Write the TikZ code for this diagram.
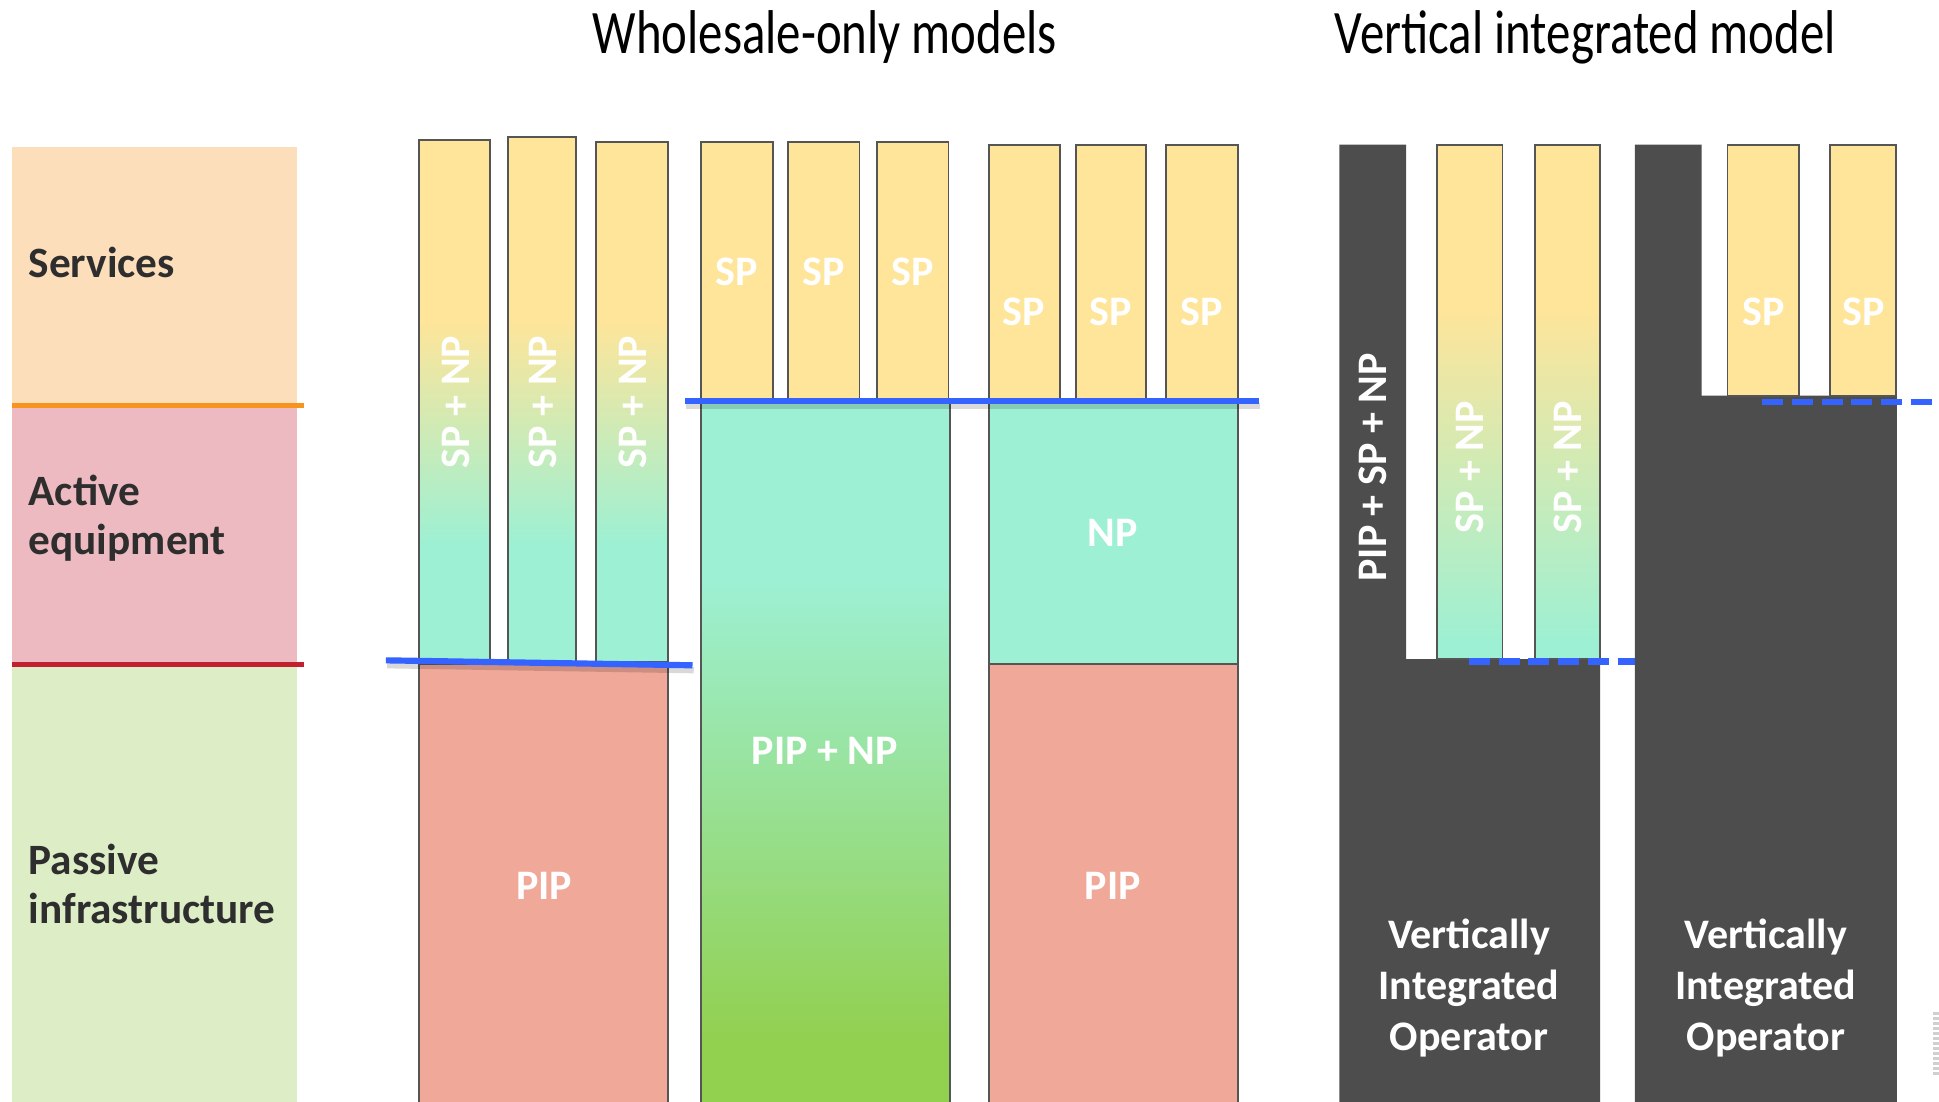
\documentclass[tikz,border=0pt]{standalone}
\usepackage{fontspec}
\setmainfont{Carlito}
\definecolor{cpeach}{HTML}{FCDEBA}
\definecolor{cpink}{HTML}{ECBAC0}
\definecolor{clgreen}{HTML}{DDEDC6}
\definecolor{corange}{HTML}{F7941D}
\definecolor{cred}{HTML}{C1202F}
\definecolor{cyel}{HTML}{FEE59A}
\definecolor{cteal}{HTML}{9DF0D3}
\definecolor{cgreen}{HTML}{92D050}
\definecolor{csalmon}{HTML}{F0A898}
\definecolor{cdark}{HTML}{4D4D4D}
\definecolor{cblue}{HTML}{3463FF}
\definecolor{cbord}{HTML}{555555}
\definecolor{ctext}{HTML}{2E2E2E}
\definecolor{cstripe}{HTML}{D0D0D0}
\newcommand{\gradbar}[6]{%
  \fill[cyel] (#1,#6) rectangle (#2,#4);
  \shade[top color=cyel,bottom color=cteal] (#1,#5) rectangle (#2,#6);
  \fill[cteal] (#1,#3) rectangle (#2,#5);
  \draw[bord] (#1,#3) rectangle (#2,#4);}
\begin{document}
\begin{tikzpicture}[x=1pt,y=1pt,
  bord/.style={draw=cbord,line width=1.4pt},
  blueln/.style={draw=cblue,line width=5pt},
  bluedash/.style={draw=cblue,line width=5pt,dash pattern=on 17pt off 7pt},
  shadowln/.style={draw=black,opacity=0.15,line width=5pt},
  lefttxt/.style={text=ctext,font=\fontsize{35}{40}\selectfont\bfseries,align=left,inner sep=0pt},
  wtxt/.style={text=white,font=\fontsize{34}{41}\selectfont\bfseries,align=center,inner sep=0pt},
  ttl/.style={text=black,font=\fontsize{50}{54}\selectfont,inner sep=0pt}]
\useasboundingbox (0,0) rectangle (1568,891);
\fill[white] (0,0) rectangle (1568,891);
% left legend column
\fill[cpeach] (10,563) rectangle (240,772);
\fill[cpink] (10,354) rectangle (240,563);
\fill[clgreen] (10,0) rectangle (240,354);
\draw[corange,line width=4pt] (10,563) -- (246,563);
\draw[cred,line width=4pt] (10,354) -- (246,354);
\node[lefttxt,anchor=west] (services) at (23,679) {Services};
\node[lefttxt,anchor=west] (active) at (23,472) {Active\\equipment};
\node[lefttxt,anchor=west] (passive) at (23,176) {Passive\\infrastructure};
% titles
\node[ttl] (t1) at (667,861) {\scalebox{0.79}[1]{Wholesale-only models}};
\node[ttl] (t2) at (1282,861) {\scalebox{0.79}[1]{Vertical integrated model}};
% model 1
\gradbar{339}{396}{356}{778}{451}{631}
\gradbar{411}{466}{356}{780}{451}{631}
\gradbar{482}{540}{356}{776}{451}{631}
\fill[csalmon] (339,-2) rectangle (540,354);
\draw[bord] (339,-2) rectangle (540,354);
\draw[shadowln] (313,353) -- (561,349);
\draw[blueln] (312,357) -- (560,353);
\node[wtxt,rotate=90] (m1a) at (369,566) {SP + NP};
\node[wtxt,rotate=90] (m1b) at (439,566) {SP + NP};
\node[wtxt,rotate=90] (m1c) at (512,566) {SP + NP};
\node[wtxt] (m1pip) at (440,175) {PIP};
% model 2
\draw[bord,fill=cyel] (567,567) rectangle (625,776);
\draw[bord,fill=cyel] (637,567) rectangle (695,776);
\draw[bord,fill=cyel] (709,567) rectangle (767,776);
\fill[cteal] (567,421) rectangle (768,567);
\shade[top color=cteal,bottom color=cgreen] (567,51) rectangle (768,421);
\fill[cgreen] (567,-2) rectangle (768,51);
\draw[bord] (567,-2) rectangle (768,567);
\node[wtxt] (m2a) at (596,671) {SP};
\node[wtxt] (m2b) at (666,671) {SP};
\node[wtxt] (m2c) at (738,671) {SP};
\node[wtxt] (m2pn) at (667,284) {PIP + NP};
% model 3
\draw[bord,fill=cyel] (800,567) rectangle (857,774);
\draw[bord,fill=cyel] (870,567) rectangle (927,774);
\draw[bord,fill=cyel] (943,567) rectangle (1001,774);
\draw[bord,fill=cteal] (800,354) rectangle (1001,567);
\draw[bord,fill=csalmon] (800,-2) rectangle (1001,354);
\node[wtxt] (m3a) at (828,639) {SP};
\node[wtxt] (m3b) at (898,639) {SP};
\node[wtxt] (m3c) at (972,639) {SP};
\node[wtxt] (m3np) at (900,460) {NP};
\node[wtxt] (m3pip) at (900,175) {PIP};
\draw[shadowln] (555,563) -- (1019,563);
\draw[blueln] (554,567) -- (1018,567);
% vertical operator 1
\fill[cdark] (1083,0) -- (1083,774) -- (1137,774) -- (1137,358) -- (1294,358) -- (1294,0) -- cycle;
\gradbar{1162}{1215}{358}{774}{371}{641}
\gradbar{1241}{1294}{358}{774}{371}{641}
\draw[bluedash] (1188,356) -- (1345,356);
\node[wtxt,rotate=90] (v1all) at (1110,513) {PIP + SP + NP};
\node[wtxt,rotate=90] (v1a) at (1189,513) {SP + NP};
\node[wtxt,rotate=90] (v1b) at (1268,513) {SP + NP};
\node[wtxt] (v1op) at (1188,92) {Vertically\\Integrated\\Operator};
% vertical operator 2
\fill[cdark] (1322,0) -- (1322,774) -- (1376,774) -- (1376,571) -- (1534,571) -- (1534,0) -- cycle;
\draw[bord,fill=cyel] (1397,571) rectangle (1455,774);
\draw[bord,fill=cyel] (1480,571) rectangle (1533,774);
\draw[bluedash] (1425,566) -- (1568,566);
\node[wtxt] (v2a) at (1426,639) {SP};
\node[wtxt] (v2b) at (1507,639) {SP};
\node[wtxt] (v2op) at (1428,92) {Vertically\\Integrated\\Operator};
% small striped mark at bottom right
\foreach \k in {0,...,12} {\fill[cstripe] (1563,22+4*\k) rectangle (1568,24.5+4*\k);}
\end{tikzpicture}
\end{document}
